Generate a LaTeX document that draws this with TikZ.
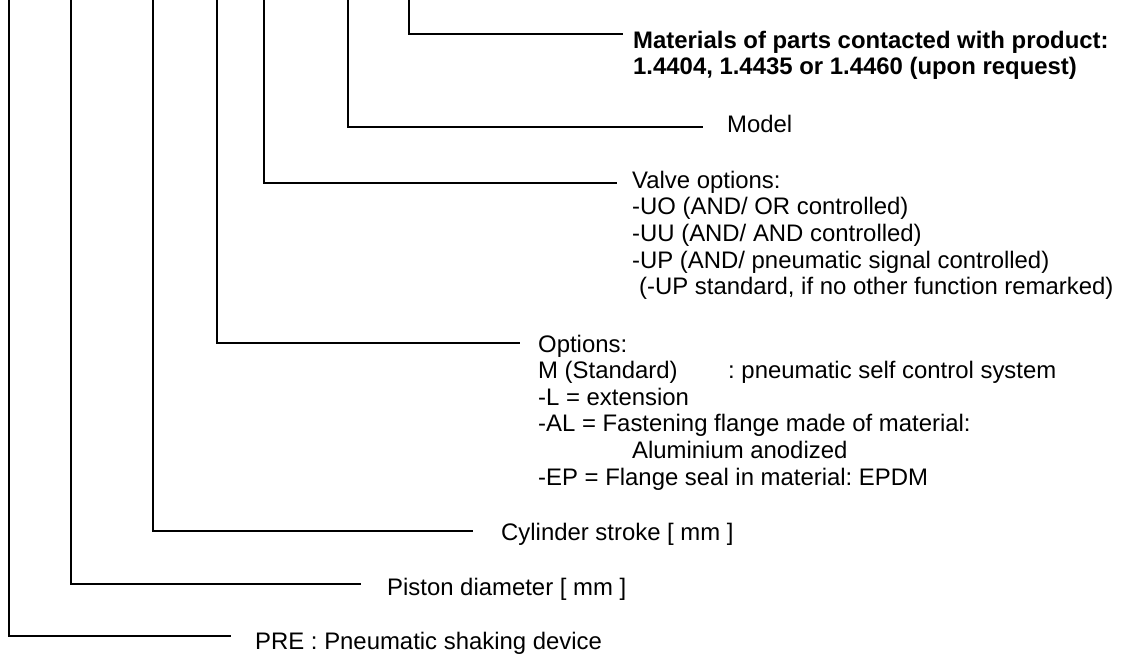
\documentclass[tikz,border=0pt]{standalone}
\usepackage{fontspec}
\setmainfont{Liberation Sans}
\frenchspacing
\begin{document}
\frenchspacing
\begin{tikzpicture}[x=1pt,y=-1pt,
  lbl/.style={anchor=base west, inner sep=0pt, font=\fontsize{23.9}{26.6}\selectfont\frenchspacing},
  blbl/.style={lbl, font=\fontsize{23.9}{26.6}\selectfont\bfseries\frenchspacing},
  conn/.style={line width=1.6pt, line join=miter, line cap=butt}]
\useasboundingbox (0,0) rectangle (1131,656);
% top ends of the vertical lines
\coordinate (t1) at (409,0);
\coordinate (t2) at (348,0);
\coordinate (t3) at (264,0);
\coordinate (t4) at (217,0);
\coordinate (t5) at (153,0);
\coordinate (t6) at (71,0);
\coordinate (t7) at (9,0);
% free ends of the horizontal lines
\coordinate (e1) at (623,34);
\coordinate (e2) at (703,127);
\coordinate (e3) at (617,183);
\coordinate (e4) at (520,343);
\coordinate (e5) at (473,531);
\coordinate (e6) at (361,584);
\coordinate (e7) at (231,636);
% labels
\node[blbl] (mat1) at (633,48) {Materials of parts contacted with product:};
\node[blbl] (mat2) at (633,74.6) {1.4404, 1.4435 or 1.4460 (upon request)};
\node[lbl] (model) at (727,132) {Model};
\node[lbl] (val1) at (632,188) {Valve options:};
\node[lbl] (val2) at (632,214.7) {-UO (AND/ OR controlled)};
\node[lbl] (val3) at (632,241.4) {-UU (AND/ AND controlled)};
\node[lbl] (val4) at (632,268) {-UP (AND/ pneumatic signal controlled)};
\node[lbl] (val5) at (632,294.8) {\hspace*{7pt}(-UP standard, if no other function remarked)};
\node[lbl] (opt1) at (538,352) {Options:};
\node[lbl] (opt2) at (538,378.6) {\makebox[190pt][l]{M (Standard)}: pneumatic self control system};
\node[lbl] (opt3) at (538,405.2) {-L = extension};
\node[lbl] (opt4) at (538,431.8) {-AL = Fastening flange made of material:};
\node[lbl] (opt5) at (538,458.4) {\hspace*{94pt}Aluminium anodized};
\node[lbl] (opt6) at (538,485) {-EP = Flange seal in material: EPDM};
\node[lbl] (cyl) at (501,540) {Cylinder stroke [ mm ]};
\node[lbl] (pis) at (387,595) {Piston diameter [ mm ]};
\node[lbl] (pre) at (255,649) {PRE : Pneumatic shaking device};
% connectors
\draw[conn] (t1) |- (e1);
\draw[conn] (t2) |- (e2);
\draw[conn] (t3) |- (e3);
\draw[conn] (t4) |- (e4);
\draw[conn] (t5) |- (e5);
\draw[conn] (t6) |- (e6);
\draw[conn] (t7) |- (e7);
\end{tikzpicture}
\end{document}
